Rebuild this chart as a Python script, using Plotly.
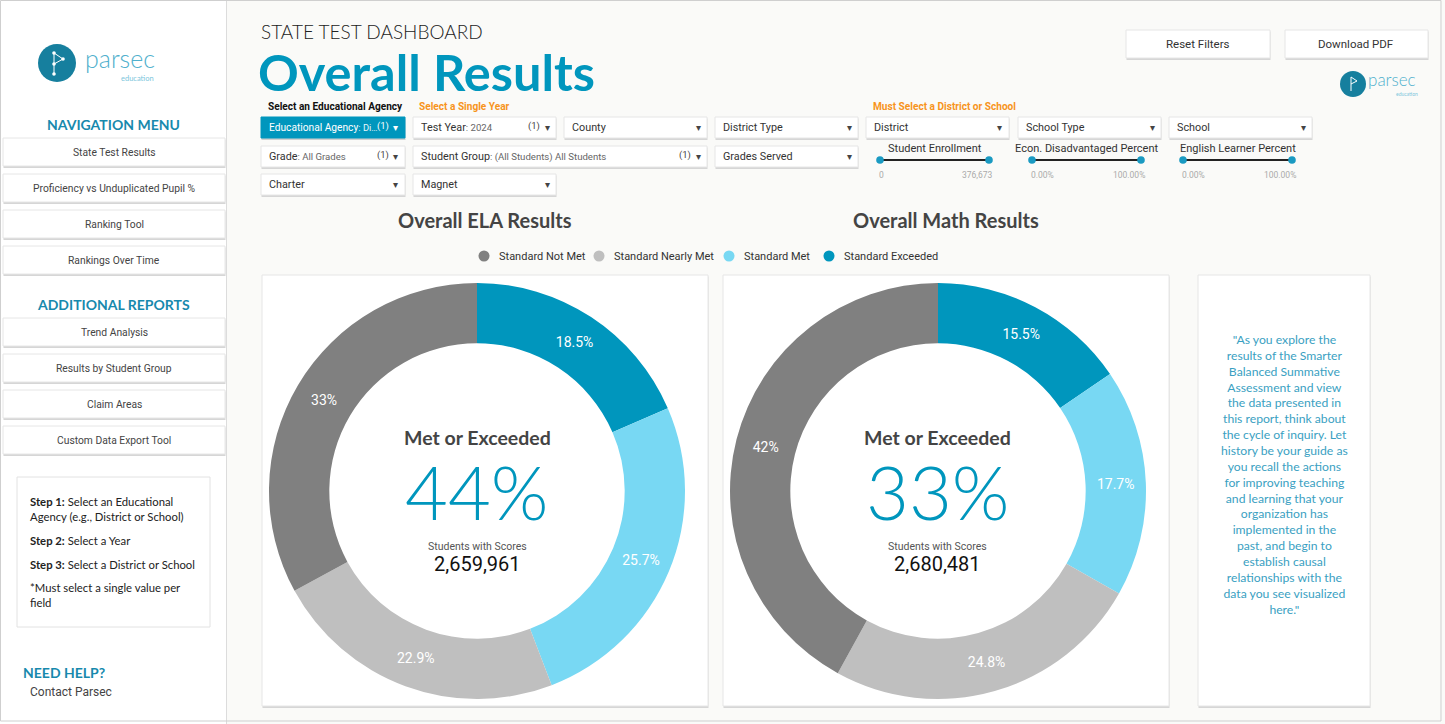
import plotly.graph_objects as go

W, H = 1445, 724

# ---------------- data ----------------
categories = ["Standard Not Met", "Standard Nearly Met", "Standard Met", "Standard Exceeded"]
ela_values = [33, 22.9, 25.7, 18.5]
math_values = [42, 24.8, 17.7, 15.5]
met_or_exceeded = [44, 33]
students_with_scores = [2659961, 2680481]
chart_titles = ["Overall ELA Results", "Overall Math Results"]

nav_menu = ["State Test Results", "Proficiency vs Unduplicated Pupil %", "Ranking Tool", "Rankings Over Time"]
additional_reports = ["Trend Analysis", "Results by Student Group", "Claim Areas", "Custom Data Export Tool"]

slider_titles = ["Student Enrollment", "Econ. Disadvantaged Percent", "English Learner Percent"]
slider_mins = ["0", "0.00%", "0.00%"]
slider_maxs = ["376,673", "100.00%", "100.00%"]

quote_lines = ["\"As you explore the", "results of the Smarter", "Balanced Summative", "Assessment and view",
               "the data presented in", "this report, think about", "the cycle of inquiry. Let",
               "history be your guide as", "you recall the actions", "for improving teaching",
               "and learning that your", "organization has", "implemented in the", "past, and begin to",
               "establish causal", "relationships with the", "data you see visualized", "here.\""]

# ---------------- styles ----------------
slice_colors = ["#808080", "#bfbfbf", "#78d8f3", "#0096bd"]
TEAL = "#0096bd"
HEAD_TEAL = "#1789ad"
ORANGE = "#f7941d"
UI_FONT = "Roboto"
HEAD_FONT = "Lato"


def X(x):
    return x / W


def Y(y):
    return 1 - y / H


shapes = []
annotations = []


def rect(x0, y0, x1, y1, fill, line=None, lw=0, layer="below"):
    shapes.append(dict(type="rect", xref="paper", yref="paper", x0=X(x0), x1=X(x1), y0=Y(y1), y1=Y(y0),
                       fillcolor=fill, line=dict(color=line or fill, width=lw), layer=layer))


def circle(cx, cy, r, fill, layer="above"):
    shapes.append(dict(type="circle", xref="paper", yref="paper", x0=X(cx - r), x1=X(cx + r),
                       y0=Y(cy + r), y1=Y(cy - r), fillcolor=fill, line=dict(width=0), layer=layer))


def line(x0, y0, x1, y1, color, w):
    shapes.append(dict(type="line", xref="paper", yref="paper", x0=X(x0), x1=X(x1), y0=Y(y0), y1=Y(y1),
                       line=dict(color=color, width=w), layer="above"))


def text(x, y, s, size, color="#333", family=UI_FONT, xanchor="left", weight=None, yanchor="middle",
         align="center"):
    f = dict(size=size, color=color, family=family)
    if weight is not None:
        f["weight"] = weight
    annotations.append(dict(x=X(x), y=Y(y), xref="paper", yref="paper", text=s, showarrow=False,
                            xanchor=xanchor, yanchor=yanchor, font=f, borderpad=0, align=align))


def card(x0, y0, x1, y1, fill="#ffffff", border="#e6e6e6"):
    rect(x0 + 0.5, y0 + 1.5, x1 + 0.5, y1 + 2, "#d6d6d6")
    rect(x0, y0, x1, y1, fill, border, 1)


# ---------------- background / sidebar ----------------
rect(0, 0, 227, H, "#ffffff")
line(226.5, 0, 226.5, H, "#dcdcdc", 1)

# sidebar logo
circle(57, 63, 19, "#167f9e")
line(54, 53, 54, 74, "#ffffff", 1)
line(54, 53, 63, 59, "#ffffff", 1)
line(63, 59, 54, 64, "#ffffff", 1)
for (dx, dy) in [(54, 53), (54, 64), (54, 74), (63, 59)]:
    circle(dx, dy, 1.8, "#ffffff")
text(84, 58, "parsec", 25, "#4fb0cd", HEAD_FONT, weight=300)
text(155, 78, "education", 7.5, "#7cc6dc", HEAD_FONT, xanchor="right")

text(113, 124, "<b>NAVIGATION MENU</b>", 14, HEAD_TEAL, HEAD_FONT, xanchor="center")
for i, lab in enumerate(nav_menu):
    cy = 152 + 36 * i
    card(3, cy - 14, 225, cy + 14)
    text(114, cy, lab, 10.3, "#444", UI_FONT, xanchor="center")

text(113, 304, "<b>ADDITIONAL REPORTS</b>", 14, HEAD_TEAL, HEAD_FONT, xanchor="center")
for i, lab in enumerate(additional_reports):
    cy = 332 + 36 * i
    card(3, cy - 14, 225, cy + 14)
    text(114, cy, lab, 10.3, "#444", UI_FONT, xanchor="center")

# steps box
shapes.append(dict(type="rect", xref="paper", yref="paper", x0=X(17), x1=X(210), y0=Y(627), y1=Y(477),
                   fillcolor="#ffffff", line=dict(color="#e2e2e2", width=1), layer="below"))
text(29, 509, "<b>Step 1:</b> Select an Educational<br>Agency (e.g., District or School)", 11.3, "#222",
     HEAD_FONT, align="left")
text(29, 540, "<b>Step 2:</b> Select a Year", 11.3, "#222", HEAD_FONT)
text(29, 564, "<b>Step 3:</b> Select a District or School", 11.3, "#222", HEAD_FONT)
text(29, 595, "*Must select a single value per<br>field", 11.3, "#222", HEAD_FONT, align="left")

text(22, 672, "<b>NEED HELP?</b>", 14, HEAD_TEAL, HEAD_FONT)
text(29, 692, "Contact Parsec", 12, "#444", UI_FONT)

# ---------------- header ----------------
text(260, 31, "STATE TEST DASHBOARD", 19, "#222", HEAD_FONT, weight=300)
text(257, 72, "<b>Overall Results</b>", 50.5, TEAL, HEAD_FONT)

card(1126, 30, 1270, 58)
text(1198, 44, "Reset Filters", 11.5, "#333", UI_FONT, xanchor="center")
card(1285, 30, 1428, 58)
text(1356, 44, "Download PDF", 11.5, "#333", UI_FONT, xanchor="center")

# right logo
circle(1353, 84, 13, "#167f9e")
line(1351, 77, 1351, 91, "#ffffff", 1)
line(1351, 77, 1357, 81, "#ffffff", 1)
line(1357, 81, 1351, 84, "#ffffff", 1)
text(1367, 80, "parsec", 17, "#4fb0cd", HEAD_FONT, weight=300)
text(1419, 94, "education", 5, "#7cc6dc", HEAD_FONT, xanchor="right")

# filter labels
text(267, 106, "<b>Select an Educational Agency</b>", 10.1, "#111", UI_FONT)
text(418, 106, "<b>Select a Single Year</b>", 10.1, ORANGE, UI_FONT)
text(872, 106, "<b>Must Select a District or School</b>", 10.1, ORANGE, UI_FONT)

# dropdowns: (name, value, count, x0, x1, row, highlighted)
rows_y = [117, 146, 174]
dropdowns = [
    ("Educational Agency", ": Di…", "(1)", 261, 405, 0, True),
    ("Test Year", ": 2024", "(1)", 413, 556, 0, False),
    ("County", "", "", 564, 707, 0, False),
    ("District Type", "", "", 715, 858, 0, False),
    ("District", "", "", 866, 1009, 0, False),
    ("School Type", "", "", 1018, 1161, 0, False),
    ("School", "", "", 1169, 1312, 0, False),
    ("Grade", ": All Grades", "(1)", 261, 405, 1, False),
    ("Student Group", ": (All Students) All Students", "(1)", 413, 707, 1, False),
    ("Grades Served", "", "", 715, 858, 1, False),
    ("Charter", "", "", 261, 405, 2, False),
    ("Magnet", "", "", 413, 556, 2, False),
]
for name, val, cnt, x0, x1, row, hl in dropdowns:
    y0 = rows_y[row]
    y1 = y0 + 21
    cy = (y0 + y1) / 2
    if hl:
        rect(x0 + 0.5, y0 + 1.5, x1 + 0.5, y1 + 2, "#d0d0d0")
        rect(x0, y0, x1, y1, TEAL, TEAL, 1)
        c1, c2, c3 = "#ffffff", "#e6f6fb", "#ffffff"
        nsize, vsize = 10.2, 9.4
    else:
        card(x0, y0, x1, y1)
        c1, c2, c3 = "#333", "#666", "#444"
        nsize, vsize = 10.8, 9.6
    s = name
    if val:
        s += "<span style='font-size:%spx;color:%s'>%s</span>" % (vsize, c2, val)
    text(x0 + 7, cy, s, nsize, c1, UI_FONT)
    text(x1 - 9, cy, "▾", 10, c3, "DejaVu Sans", xanchor="center")
    if cnt:
        text(x1 - 15, cy - 1, cnt, 9.5, c3, UI_FONT, xanchor="right")

# sliders
slider_x = [(880, 989), (1032, 1141), (1183, 1292)]
for (a, b), t, mn, mx in zip(slider_x, slider_titles, slider_mins, slider_maxs):
    text((a + b) / 2, 148, t, 11, "#333", UI_FONT, xanchor="center")
    line(a, 160, b, 160, "#222", 2)
    circle(a, 160, 3.8, "#1a9ac2")
    circle(b, 160, 3.8, "#1a9ac2")
    text(a - 2, 175, mn, 8.5, "#aaaaaa", UI_FONT)
    text(b + 5, 175, mx, 8.5, "#aaaaaa", UI_FONT, xanchor="right")

# chart titles
text(485, 220, "<b>" + chart_titles[0] + "</b>", 20, "#444", HEAD_FONT, xanchor="center")
text(946, 220, "<b>" + chart_titles[1] + "</b>", 20, "#444", HEAD_FONT, xanchor="center")

# legend
legend_x = [484, 599, 729, 829]
for lx, lab, col in zip(legend_x, categories, slice_colors):
    circle(lx, 256, 5.5, col)
    text(lx + 14, 256, lab, 11, "#333", UI_FONT)

# cards
card(262, 275, 708, 706)
card(723, 275, 1169, 706)
card(1198, 275, 1370, 706)
text(1284, 474, "<br>".join(quote_lines), 12.2, "#3a9fc2", "Lato", xanchor="center")

# ---------------- donuts ----------------
centers = [(477, 491), (938, 491)]
R = 208
fig = go.Figure()
for (cx, cy), vals, pct, n in zip(centers, [ela_values, math_values], met_or_exceeded, students_with_scores):
    fig.add_trace(go.Pie(
        labels=categories[::-1], values=vals[::-1], sort=False, direction="clockwise", rotation=0,
        hole=0.71, marker=dict(colors=slice_colors[::-1], line=dict(width=0)),
        texttemplate="%{value}%", textposition="inside", insidetextorientation="horizontal",
        textfont=dict(color="#ffffff", size=14, family=UI_FONT),
        domain=dict(x=[X(cx - R), X(cx + R)], y=[Y(cy + R), Y(cy - R)]),
        showlegend=False, hoverinfo="label+value",
    ))
    text(cx, 437, "<b>Met or Exceeded</b>", 19.5, "#444", HEAD_FONT, xanchor="center")
    text(cx, 491, "%d%%" % pct, 74, TEAL, HEAD_FONT, xanchor="center", weight=300)
    text(cx, 546, "Students with Scores", 10.5, "#555", UI_FONT, xanchor="center")
    text(cx, 564, f"{n:,}", 20, "#111", UI_FONT, xanchor="center")

# outer frame
shapes.append(dict(type="rect", xref="paper", yref="paper", x0=X(0.5), x1=X(1441), y0=Y(721), y1=Y(0.5),
                   line=dict(color="#cfcfcf", width=1), fillcolor="rgba(0,0,0,0)", layer="above"))

fig.update_layout(
    width=W, height=H, margin=dict(l=0, r=0, t=0, b=0),
    paper_bgcolor="#fafaf8", plot_bgcolor="#fafaf8",
    shapes=shapes, annotations=annotations, showlegend=False,
)

fig.write_html("out.html", config={"displayModeBar": False},
               post_script="document.body.style.margin='0';document.body.style.overflow='hidden';")
